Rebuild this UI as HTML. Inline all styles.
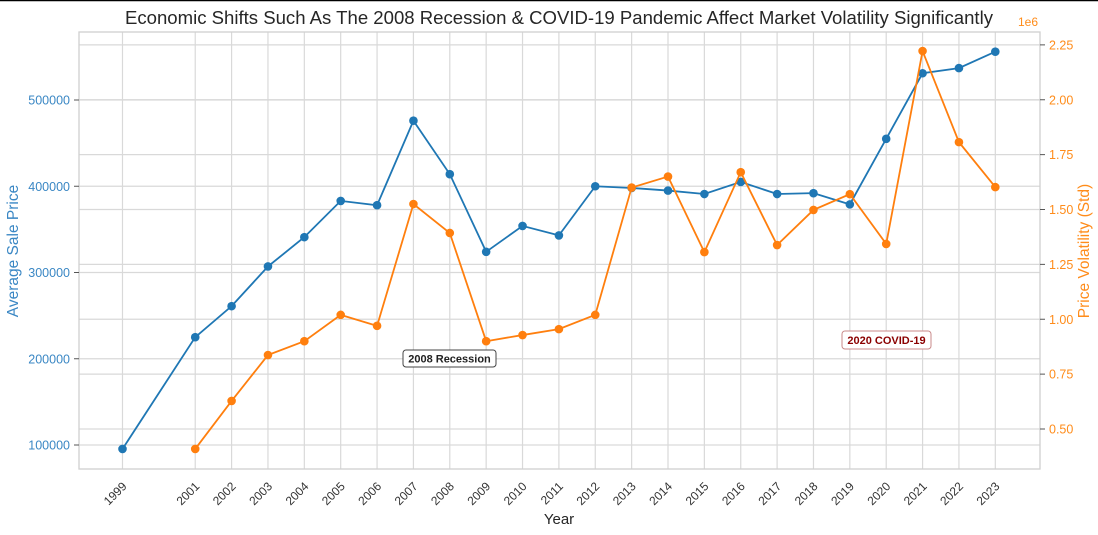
<!DOCTYPE html>
<html><head><meta charset="utf-8"><style>
body{margin:0;background:#fff;}
svg{display:block;font-family:"Liberation Sans",Arial,sans-serif;}
</style></head><body>
<svg id="chart" width="1098" height="535" viewBox="0 0 1098 535">
<rect x="0" y="0" width="1098" height="535" fill="#fff"/>
<line x1="0" y1="0.5" x2="1098" y2="0.5" stroke="#000" stroke-width="1.5"/>
<text x="559" y="24" text-anchor="middle" font-size="18.3" textLength="868" lengthAdjust="spacingAndGlyphs" fill="#262626">Economic Shifts Such As The 2008 Recession &amp; COVID-19 Pandemic Affect Market Volatility Significantly</text>
<g id="grid"></g>
<rect x="79" y="32" width="961" height="437" fill="none" stroke="#d0d0d0" stroke-width="1.3"/>
<g id="axes"></g>
<g id="series"></g>
<text x="18" y="251" transform="rotate(-90 18 251)" text-anchor="middle" font-size="15.5" fill="#3a87c4">Average Sale Price</text>
<text x="1089" y="251" transform="rotate(-90 1089 251)" text-anchor="middle" font-size="15.5" fill="#ff8c1a">Price Volatility (Std)</text>
<text x="1028" y="26" text-anchor="middle" font-size="12" fill="#ff8c1a">1e6</text>
<text x="559" y="524" text-anchor="middle" font-size="15" fill="#262626">Year</text>
<g>
<rect x="403" y="350" width="93" height="17" rx="3" fill="#fff" stroke="#444" stroke-width="1"/>
<text x="449.5" y="362.5" text-anchor="middle" font-size="11" font-weight="bold" fill="#222">2008 Recession</text>
</g>
<g>
<rect x="842" y="331" width="89" height="18" rx="3" fill="#fff" stroke="#c98a8a" stroke-width="1"/>
<text x="886.5" y="344" text-anchor="middle" font-size="11" font-weight="bold" fill="#8b0000">2020 COVID-19</text>
</g>
</svg>
<script>
const years = [1999,2001,2002,2003,2004,2005,2006,2007,2008,2009,2010,2011,2012,2013,2014,2015,2016,2017,2018,2019,2020,2021,2022,2023];
const avgPrice = [95400,225000,261000,307000,341000,383000,378000,476000,414000,324000,354000,343000,400000,398000,395000,391000,405000,391000,392000,379000,455000,531000,537000,556000];
const volYears = [2001,2002,2003,2004,2005,2006,2007,2008,2009,2010,2011,2012,2013,2014,2015,2016,2017,2018,2019,2020,2021,2022,2023];
const volatility = [409000,628000,837000,900000,1020000,970000,1525000,1393000,900000,928000,955000,1020000,1600000,1650000,1306000,1670000,1338000,1498000,1570000,1343000,2222000,1807000,1602000];
const leftTicks = [100000,200000,300000,400000,500000];
const rightTicks = [0.5,0.75,1.0,1.25,1.5,1.75,2.0,2.25];

const NS='http://www.w3.org/2000/svg';
const X = y => 122.5 + (y-1999)*(995.3-122.5)/24;
const YL = v => 445 - (v-100000)*(345/400000);
const YR = v => 429 - (v-500000)*(219.5/1000000);
function mk(tag, attrs, parent){const e=document.createElementNS(NS,tag);for(const k in attrs)e.setAttribute(k,attrs[k]);parent.appendChild(e);return e;}
const grid=document.getElementById('grid'), axes=document.getElementById('axes'), series=document.getElementById('series');

years.forEach(y=>{
  const l=mk('line',{x1:X(y),x2:X(y),y1:32,y2:469,stroke:'#d9d9d9','stroke-width':1.2},grid);
  
  
  const t=mk('text',{x:X(y)+5,y:487,'text-anchor':'end','font-size':12,fill:'#333',transform:`rotate(-45 ${X(y)+5} 487)`},axes);
  t.textContent=y;
  
  
});
leftTicks.forEach(v=>{
  const l=mk('line',{x1:79,x2:1040,y1:YL(v),y2:YL(v),stroke:'#d9d9d9','stroke-width':1.2},grid);
  
  
  const tk=mk('line',{x1:74,x2:79,y1:YL(v),y2:YL(v),stroke:'#555','stroke-width':1},axes);
  
  
  const t=mk('text',{x:70,y:YL(v)+4.5,'text-anchor':'end','font-size':12.5,fill:'#3a87c4'},axes);
  t.textContent=v;
  
  
});
rightTicks.forEach(v=>{
  const yy=YR(v*1e6);
  const l=mk('line',{x1:79,x2:1040,y1:yy,y2:yy,stroke:'#d9d9d9','stroke-width':1.2},grid);
  
  
  const tk=mk('line',{x1:1040,x2:1045,y1:yy,y2:yy,stroke:'#555','stroke-width':1},axes);
  
  
  const t=mk('text',{x:1049,y:yy+4.5,'font-size':12.5,fill:'#ff8c1a'},axes);
  t.textContent=v.toFixed(2);
  
  
});

function drawSeries(xs, vals, yf, color, name){
  const p=mk('polyline',{points:xs.map((y,i)=>X(y)+','+yf(vals[i])).join(' '),fill:'none',stroke:color,'stroke-width':1.8},series);
  
  
  xs.forEach((y,i)=>{
    const c=mk('circle',{cx:X(y),cy:yf(vals[i]),r:4.3,fill:color},series);
    
    
  });
}
drawSeries(years, avgPrice, YL, '#1f77b4', 'avg-price');
drawSeries(volYears, volatility, YR, '#ff7f0e', 'volatility');
</script>
</body></html>
